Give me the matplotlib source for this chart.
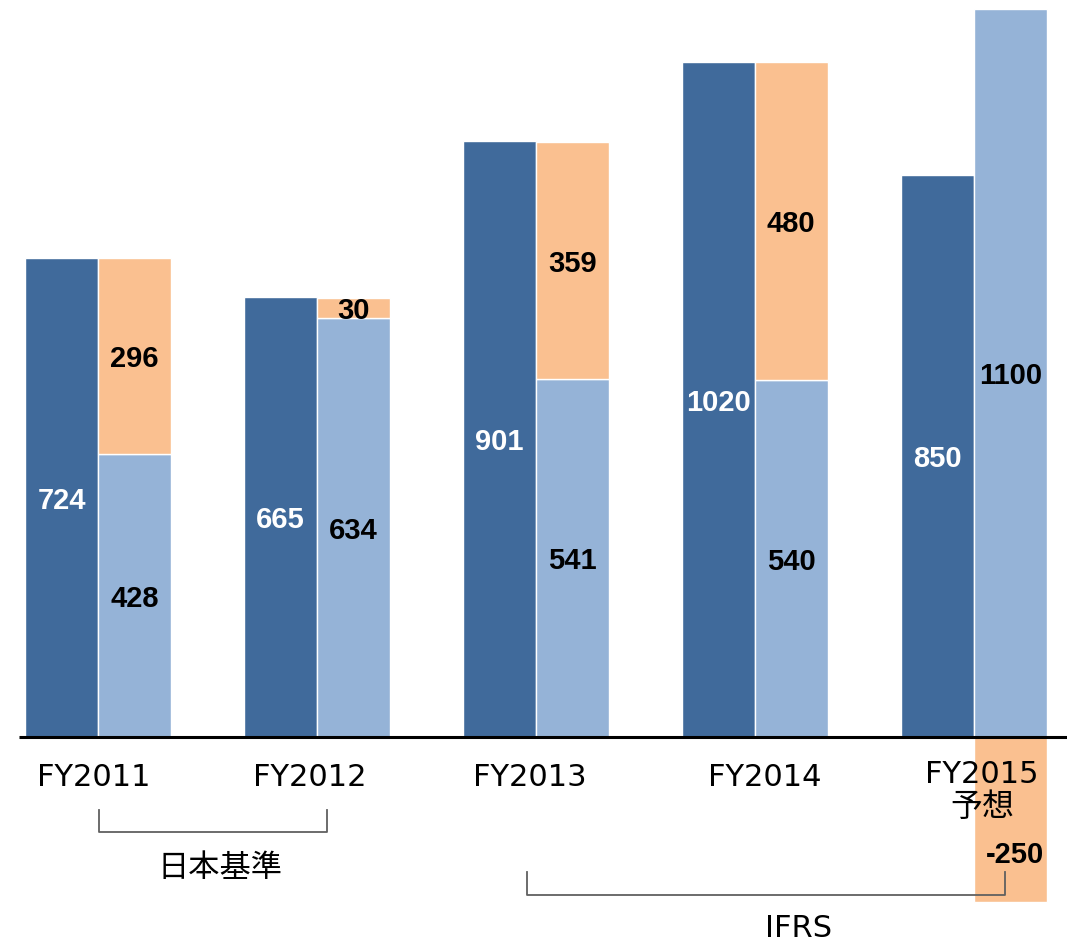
import numpy as np
import matplotlib.pyplot as plt

plt.rcParams['font.family'] = ['DejaVu Sans', 'Noto Sans CJK JP']

years = ["FY2011", "FY2012", "FY2013", "FY2014", "FY2015\n予想"]
total = [724, 665, 901, 1020, 850]
base = [428, 634, 541, 540, 1100]
extra = [296, 30, 359, 480, -250]

dark = "#406A9B"
light = "#95B3D7"
orange = "#FAC090"

x = np.arange(len(years))
w = 0.332
off = 0.166
lab_shift = [-0.018, -0.032, -0.027, 0.045, 0.037]

fig = plt.figure(figsize=(10.67, 9.42), dpi=100)
ax = fig.add_axes([0, 0, 1, 1])

ax.bar(x - off, total, w, color=dark, edgecolor="white", linewidth=1)
ax.bar(x + off, base, w, color=light, edgecolor="white", linewidth=1)
# orange part sits on top of the light bar, or below zero when negative
bottoms = [b if e > 0 else 0 for b, e in zip(base, extra)]
ax.bar(x + off, extra, w, bottom=bottoms, color=orange, edgecolor="white", linewidth=1)

vfont = dict(family="Liberation Sans", fontweight="bold", fontsize=21,
             ha="center", va="center")
dy = -5
for i in range(len(years)):
    ax.text(x[i] - off, total[i] / 2 + dy, str(total[i]), color="white", **vfont)
    ax.text(x[i] + off, base[i] / 2 + dy, str(base[i]), color="black", **vfont)
    if extra[i] > 0:
        ax.text(x[i] + off, base[i] + extra[i] / 2 + dy, str(extra[i]), color="black", **vfont)
    else:
        ax.text(x[i] + off + 0.02, -178, str(extra[i]), color="black", **vfont)

ax.plot([-0.361, 5], [0, 0], color="black", lw=2.2, solid_capstyle="butt")

for i, lab in enumerate(years):
    if "\n" in lab:
        a, b = lab.split("\n")
        ax.text(x[i] + lab_shift[i], -57, a, fontsize=22, ha="center", va="center")
        ax.text(x[i] + lab_shift[i], -107, b, fontsize=23, ha="center", va="center")
    else:
        ax.text(x[i] + lab_shift[i], -62, lab, fontsize=22, ha="center", va="center")

# accounting standard brackets
gray = "#606060"
ax.plot([0.005, 0.005, 1.046, 1.046], [-110, -144, -144, -110], color=gray, lw=1.3)
ax.text(0.557, -198, "日本基準", fontsize=22.5, ha="center", va="center",
        family=["Noto Sans CJK JP", "DejaVu Sans"])
ax.plot([1.959, 1.959, 4.142, 4.142], [-204, -239, -239, -204], color=gray, lw=1.3)
ax.text(3.2, -289, "IFRS", fontsize=22, ha="center", va="center")

ax.set_xlim(-0.4475, 4.425)
ax.set_ylim(-310, 1114)
ax.axis("off")

fig.savefig("out.png", dpi=100)
